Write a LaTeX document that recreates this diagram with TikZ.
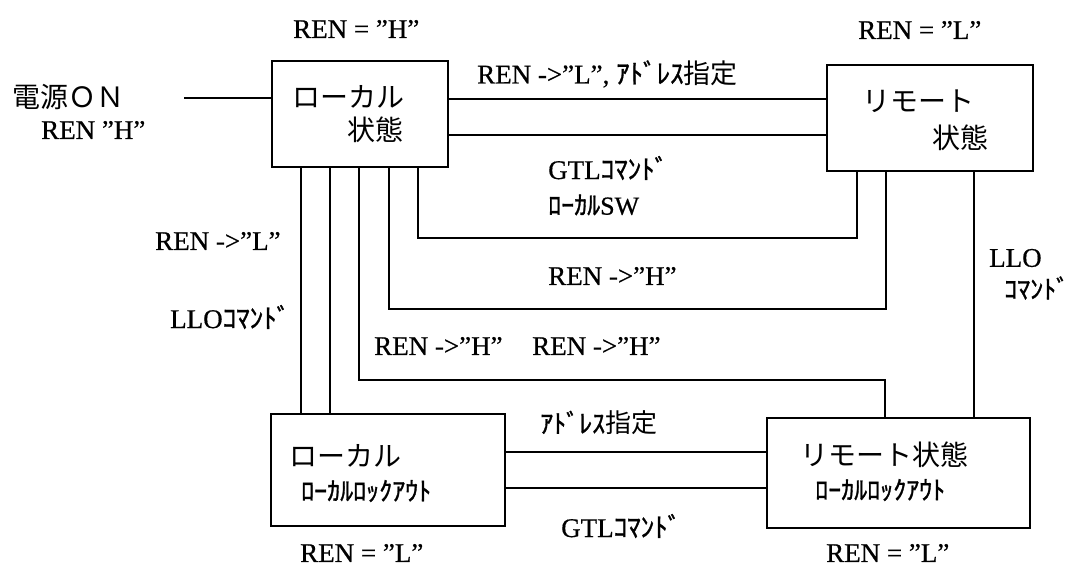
\documentclass[tikz,border=0pt]{standalone}
\usepackage{fontspec}
\setmainfont{Liberation Serif}[FakeBold=0.6]
\newfontfamily\jp{Noto Sans CJK JP}
\newfontfamily\jph[FakeBold=1.2]{Noto Sans CJK JP}
\begin{document}
\begin{tikzpicture}[x=1pt,y=-1pt,
  box/.style={draw, line width=1.8pt, inner sep=0pt},
  ln/.style={line width=1.8pt},
  lab/.style={inner sep=0pt, anchor=west, font=\fontsize{27}{30}\selectfont},
  jlab/.style={inner sep=0pt, anchor=west, font=\jp\fontsize{28}{32}\selectfont},
  hlab/.style={inner sep=0pt, anchor=west, font=\jph\fontsize{26}{30}\selectfont},
  ]
\useasboundingbox (0,0) rectangle (1069,570);
% boxes
\node[box, minimum width=176pt, minimum height=106pt] (L) at (360,114) {};
\node[box, minimum width=206pt, minimum height=106pt] (R) at (930,118) {};
\node[box, minimum width=234pt, minimum height=112pt] (LL) at (388,470) {};
\node[box, minimum width=263pt, minimum height=110pt] (RL) at (898.5,473) {};
% box texts
\node[jlab] (lt1) at (292,97) {ローカル};
\node[jlab] (lt2) at (347,130) {状態};
\node[jlab] (rt1) at (862,101) {リモート};
\node[jlab] (rt2) at (932,138) {状態};
\node[jlab] (llt1) at (289,456) {ローカル};
\node[hlab] (llt2) at (301,491) {ﾛｰｶﾙﾛｯｸｱｳﾄ};
\node[jlab] (rlt1) at (800,455) {リモート状態};
\node[hlab] (rlt2) at (815,490) {ﾛｰｶﾙﾛｯｸｱｳﾄ};
% state labels
\node[lab] (sh) at (293,29) {REN = ”H”};
\node[lab] (sl) at (858,30) {REN = ”L”};
\node[lab] (sll) at (300,553) {REN = ”L”};
\node[lab] (srl) at (826,553) {REN = ”L”};
% power on
\node[jlab] (pon) at (12,97) {電源ＯＮ};
\node[lab] (ponr) at (41,130) {REN ”H”};
\coordinate (pw) at (184,98);
\draw[ln] (pw) -- (L.west |- pw);
% transitions L <-> R
\node[lab] (t1) at (477,74) {REN ->”L”, {\jph ｱﾄﾞﾚｽ}{\jp 指定}};
\draw[ln] (L.east |- 0,99) -- (R.west |- 0,99);
\draw[ln] (L.east |- 0,135) -- (R.west |- 0,135);
\node[lab] (t2) at (548,168) {GTL{\jph ｺﾏﾝﾄﾞ}};
\node[hlab] (t3) at (548,205) {ﾛｰｶﾙ{\rmfamily SW}};
\draw[ln] (L.south -| 418,0) -- (418,238) -- (857,238) -- (R.south -| 857,0);
\node[lab] (t4) at (548,276) {REN ->”H”};
\draw[ln] (L.south -| 389,0) -- (389,309) -- (886,309) -- (R.south -| 886,0);
\node[lab] (t5) at (374,346) {REN ->”H”};
\node[lab] (t6) at (532,346) {REN ->”H”};
\draw[ln] (L.south -| 359,0) -- (359,380) -- (885,380) -- (RL.north -| 885,0);
% L -> LL
\node[lab] (t7) at (155,241) {REN ->”L”};
\node[lab] (t8) at (170,317) {LLO{\jph ｺﾏﾝﾄﾞ}};
\draw[ln] (L.south -| 301,0) -- (LL.north -| 301,0);
\draw[ln] (L.south -| 330,0) -- (LL.north -| 330,0);
% R -> RL
\node[lab] (t9) at (989,258) {LLO};
\node[hlab] (t10) at (1004,288) {ｺﾏﾝﾄﾞ};
\draw[ln] (R.south -| 974,0) -- (RL.north -| 974,0);
% LL <-> RL
\node[hlab] (t11) at (540,423) {ｱﾄﾞﾚｽ{\jp 指定}};
\draw[ln] (LL.east |- 0,452) -- (RL.west |- 0,452);
\draw[ln] (LL.east |- 0,488) -- (RL.west |- 0,488);
\node[lab] (t12) at (561,526) {GTL{\jph ｺﾏﾝﾄﾞ}};
\end{tikzpicture}
\end{document}
